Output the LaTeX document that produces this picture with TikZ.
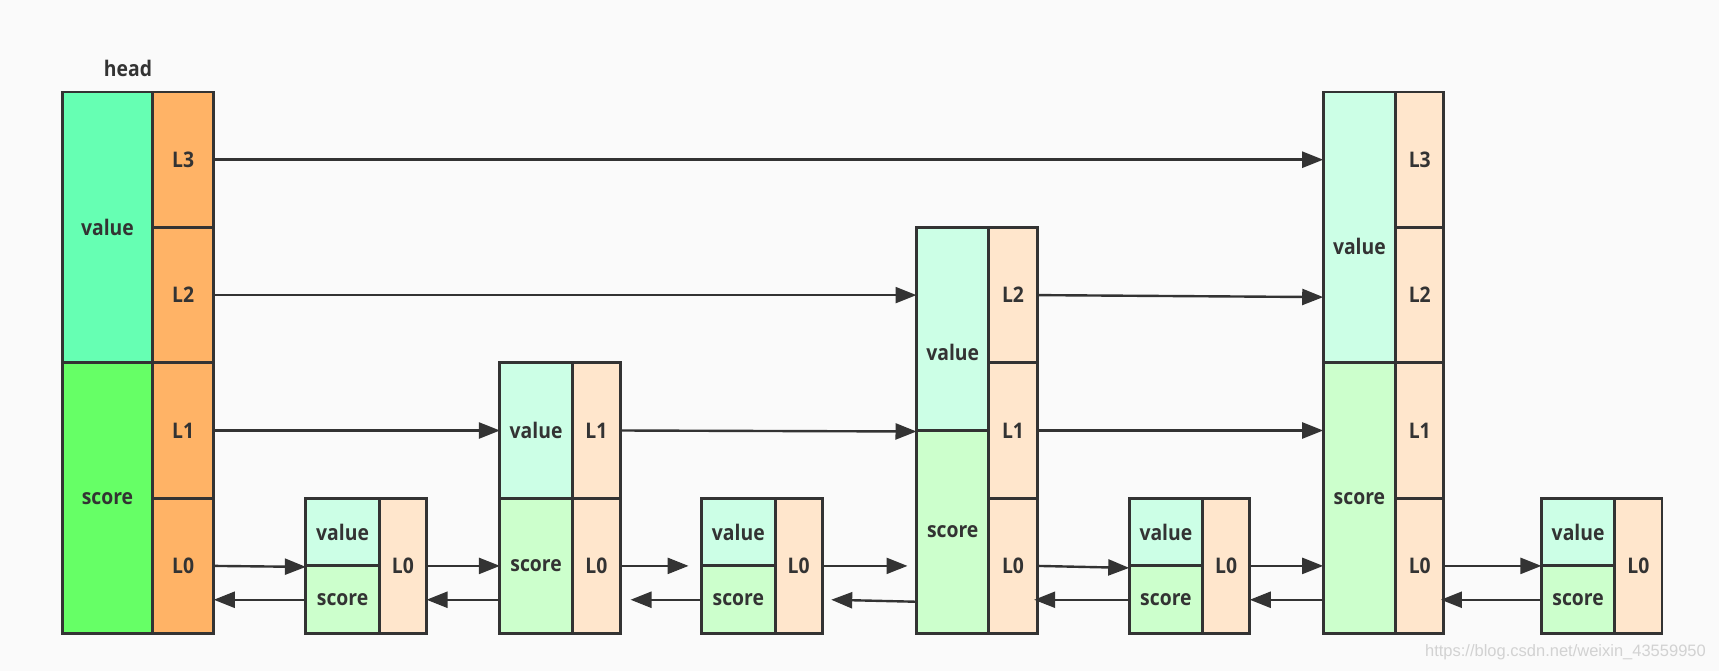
\documentclass[tikz,border=0pt]{standalone}
\usepackage{fontspec}
\setmainfont{Open Sans}[FakeStretch=0.9]
\newfontfamily\wmfont{Liberation Sans}
\usetikzlibrary{arrows.meta}
\definecolor{ink}{HTML}{333333}
\definecolor{bg}{HTML}{FAFAFA}
\definecolor{hvC}{HTML}{66FFB3}
\definecolor{hsC}{HTML}{66FF66}
\definecolor{hlC}{HTML}{FFB366}
\definecolor{vC}{HTML}{CCFFE6}
\definecolor{sC}{HTML}{CCFFCC}
\definecolor{lC}{HTML}{FFE6CC}
\definecolor{wm}{HTML}{D2D2D2}
\newcommand\cell[7]{\node[cell,fill=#6,minimum width={#4pt-#2pt},minimum height={#5pt-#3pt}] (#1) at ({(#2+#4)/2},{(#3+#5)/2}) {#7};}
% small node: name, x1, x2, x3
\newcommand\smallnode[4]{%
  \cell{#1v}{#2}{498.2}{#3}{565.9}{vC}{value}
  \cell{#1s}{#2}{565.9}{#3}{633.6}{sC}{score}
  \cell{#1L0}{#3}{498.2}{#4}{633.6}{lC}{L0}}
\begin{document}
\begin{tikzpicture}[x=1pt,y=-1pt,
  cell/.style={draw=ink,line width=2.9pt,inner sep=0pt,outer sep=0pt,text=ink,font=\fontsize{21.5}{21.5}\selectfont\bfseries},
  txt/.style={inner sep=0pt,text=ink,font=\fontsize{21.5}{21.5}\selectfont\bfseries},
  arr/.style={draw=ink,line width=2.4pt,-{Triangle[length=21pt,width=16pt]}}]
\useasboundingbox[fill=bg] (0,0) rectangle (1719,671);
\node[txt] (headlabel) at (128,68) {head};
% head
\cell{hv}{62.5}{92}{152.4}{362.8}{hvC}{value}
\cell{hs}{62.5}{362.8}{152.4}{633.6}{hsC}{score}
\cell{hL3}{152.4}{92}{213.8}{227.4}{hlC}{L3}
\cell{hL2}{152.4}{227.4}{213.8}{362.8}{hlC}{L2}
\cell{hL1}{152.4}{362.8}{213.8}{498.2}{hlC}{L1}
\cell{hL0}{152.4}{498.2}{213.8}{633.6}{hlC}{L0}
% small nodes
\smallnode{na}{305.9}{379.3}{426.5}
\smallnode{nc}{701.6}{775.1}{822.2}
\smallnode{ne}{1129.2}{1202.6}{1249.8}
\smallnode{ng}{1541.4}{1614.8}{1662.0}
% node b
\cell{nbv}{499.9}{362.8}{572.3}{498.2}{vC}{value}
\cell{nbs}{499.9}{498.2}{572.3}{633.6}{sC}{score}
\cell{nbL1}{572.3}{362.8}{620.5}{498.2}{lC}{L1}
\cell{nbL0}{572.3}{498.2}{620.5}{633.6}{lC}{L0}
% node d
\cell{ndv}{916.5}{227.4}{988.9}{430.5}{vC}{}
\cell{nds}{916.5}{430.5}{988.9}{633.6}{sC}{score}
\cell{ndL2}{988.9}{227.4}{1037.1}{362.8}{lC}{L2}
\cell{ndL1}{988.9}{362.8}{1037.1}{498.2}{lC}{L1}
\cell{ndL0}{988.9}{498.2}{1037.1}{633.6}{lC}{L0}
\node[txt] (ndvtext) at (952.7,352) {value};
% node f
\cell{nfv}{1323.2}{92}{1395.6}{362.8}{vC}{}
\cell{nfs}{1323.2}{362.8}{1395.6}{633.6}{sC}{score}
\cell{nfL3}{1395.6}{92}{1443.9}{227.4}{lC}{L3}
\cell{nfL2}{1395.6}{227.4}{1443.9}{362.8}{lC}{L2}
\cell{nfL1}{1395.6}{362.8}{1443.9}{498.2}{lC}{L1}
\cell{nfL0}{1395.6}{498.2}{1443.9}{633.6}{lC}{L0}
\node[txt] (nfvtext) at (1359.4,246.5) {value};
% level 3
\draw[arr] (hL3.east) -- (hL3.east -| nfv.west);
% level 2
\draw[arr] (hL2.east) -- (hL2.east -| ndv.west);
\draw[arr] (ndL2.east) -- ([yshift=-2pt]ndL2.east -| nfv.west);
% level 1
\draw[arr] (hL1.east) -- (hL1.east -| nbv.west);
\draw[arr] (nbL1.east) -- ([yshift=-1pt]nbL1.east -| ndv.west);
\draw[arr] (ndL1.east) -- (ndL1.east -| nfs.west);
% level 0 forward
\draw[arr] (hL0.east) -- ([yshift=-1pt]hL0.east -| nav.west);
\draw[arr] (naL0.east) -- (naL0.east -| nbs.west);
\draw[arr] (nbL0.east) -- ([xshift=-13pt]nbL0.east -| ncv.west);
\draw[arr] (ncL0.east) -- ([xshift=-9pt]ncL0.east -| nds.west);
\draw[arr] (ndL0.east) -- ([yshift=-2pt]ndL0.east -| nev.west);
\draw[arr] (neL0.east) -- (neL0.east -| nfs.west);
\draw[arr] (nfL0.east) -- (nfL0.east -| ngv.west);
% level 0 backward
\draw[arr] (nas.west) -- (nas.west -| hL0.east);
\draw[arr] (nbs.west |- nas.west) -- (nas.west -| naL0.east);
\draw[arr] (ncs.west) -- ([xshift=10pt]ncs.west -| nbL0.east);
\draw[arr] ([yshift=-2pt]nds.west |- ncs.west) -- ([xshift=9pt]ncs.west -| ncL0.east);
\draw[arr] (nes.west) -- ([xshift=-3pt]nes.west -| ndL0.east);
\draw[arr] (nfs.west |- nes.west) -- (nes.west -| neL0.east);
\draw[arr] (ngs.west) -- ([xshift=-3pt]ngs.west -| nfL0.east);
\node[anchor=east,inner sep=0pt,text=wm,font=\wmfont\fontsize{16.5}{16.5}\selectfont] (wmark) at (1706,652) {https://blog.csdn.net/weixin\_43559950};
\end{tikzpicture}
\end{document}
